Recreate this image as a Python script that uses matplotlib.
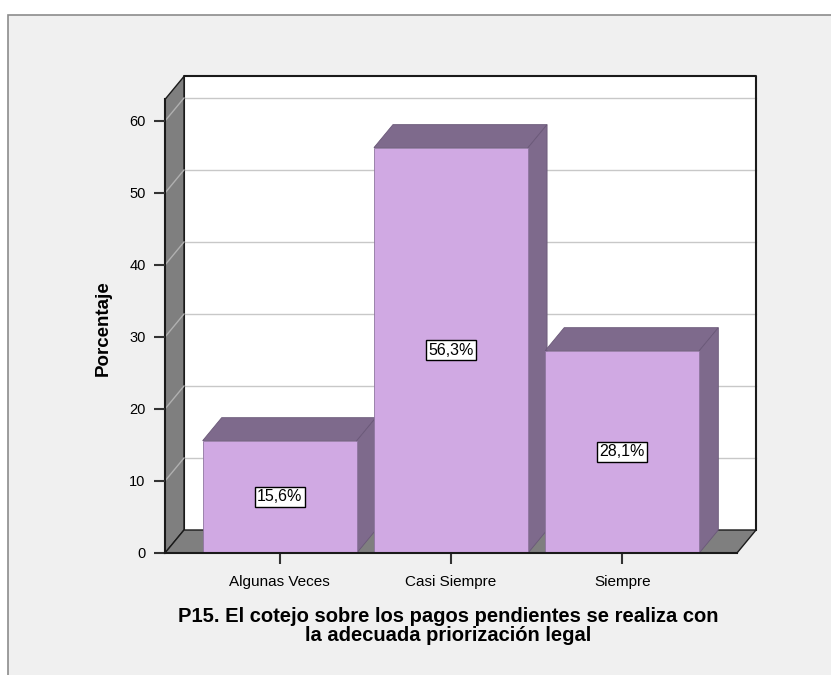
import matplotlib.pyplot as plt
from matplotlib.patches import Polygon, Rectangle

plt.rcParams['font.family'] = ['Liberation Sans', 'DejaVu Sans']

categories = ['Algunas Veces', 'Casi Siempre', 'Siempre']
percents = [15.6, 56.3, 28.1]
y_ticks = [0, 10, 20, 30, 40, 50, 60]
y_label = 'Porcentaje'
x_label = 'P15. El cotejo sobre los pagos pendientes se realiza con\nla adecuada priorización legal'

front_col = '#d0a9e3'
dark_col = '#7e6a8c'
wall_col = '#7f7f7f'

W, H = 831, 675
fig = plt.figure(figsize=(W / 100, H / 100), dpi=100)
fig.patch.set_facecolor('white')

# outer grey panel
fig.patches.append(Rectangle((8 / W, -0.1), 1.2, (H - 15) / H + 0.1, transform=fig.transFigure,
                             facecolor='#f0f0f0', edgecolor='#8c8c8c', linewidth=1.2, zorder=-10))

x0, x1 = -0.67, 2.67
ymax = 63
ax = fig.add_axes([165 / W, 122 / H, 572 / W, ymax * 7.2 / H])
ax.set_xlim(x0, x1)
ax.set_ylim(0, ymax)
ax.patch.set_visible(False)

# depth offset in data units (~19 px right, ~23 px up)
dx = 19 / (572 / (x1 - x0))
dy = 23 / 7.2

# back wall
ax.add_patch(Rectangle((x0 + dx, dy), x1 - x0, ymax, facecolor='white', edgecolor='none',
                       zorder=0, clip_on=False))
for v in y_ticks[1:]:
    ax.plot([x0 + dx, x1 + dx], [v + dy, v + dy], color='#c8c8c8', lw=1, zorder=0.5, clip_on=False)
ax.plot([x0 + dx, x0 + dx, x1 + dx, x1 + dx], [dy, ymax + dy, ymax + dy, dy],
        color='#1a1a1a', lw=1.5, zorder=0.6, clip_on=False)

# left wall
ax.add_patch(Polygon([(x0, 0), (x0, ymax), (x0 + dx, ymax + dy), (x0 + dx, dy)],
                     closed=True, facecolor=wall_col, edgecolor='#1a1a1a', lw=1, zorder=1, clip_on=False))
for v in y_ticks[1:]:
    ax.plot([x0, x0 + dx], [v, v + dy], color='#b0b0b0', lw=1, zorder=1.1, clip_on=False)

# floor
ax.add_patch(Polygon([(x0, 0), (x1, 0), (x1 + dx, dy), (x0 + dx, dy)],
                     closed=True, facecolor=wall_col, edgecolor='#1a1a1a', lw=1, zorder=1, clip_on=False))

# bars
bw = 0.9
for i, v in enumerate(percents):
    l, r = i - bw / 2, i + bw / 2
    z = 2 + i
    ax.add_patch(Polygon([(l, v), (r, v), (r + dx, v + dy), (l + dx, v + dy)], closed=True,
                         facecolor=dark_col, edgecolor='#6a5878', lw=0.6, zorder=z, clip_on=False))
    ax.add_patch(Polygon([(r, 0), (r, v), (r + dx, v + dy), (r + dx, dy)], closed=True,
                         facecolor=dark_col, edgecolor='#6a5878', lw=0.6, zorder=z, clip_on=False))
    ax.bar(i, v, width=bw, color=front_col, edgecolor='#8f76a0', linewidth=0.6, zorder=z + 0.5)
    ax.text(i, v / 2, f'{v:.1f}%'.replace('.', ','), ha='center', va='center', fontsize=11.5,
            zorder=z + 0.8,
            bbox=dict(boxstyle='square,pad=0.15', facecolor='white', edgecolor='black', linewidth=1))

for s in ['top', 'right']:
    ax.spines[s].set_visible(False)
ax.spines['left'].set_color('#1a1a1a')
ax.spines['bottom'].set_color('#1a1a1a')
ax.spines['left'].set_linewidth(1.5)
ax.spines['bottom'].set_linewidth(1.5)
ax.spines['left'].set_zorder(1.5)
ax.spines['bottom'].set_zorder(10)

ax.set_yticks(y_ticks)
ax.set_xticks(range(len(categories)))
ax.set_xticklabels(categories)
ax.tick_params(axis='y', length=8, width=1.5, color='#333333', labelsize=10.5, pad=6)
ax.tick_params(axis='x', length=8, width=1.5, color='#333333', labelsize=11, pad=8)

fig.text(103 / W, 1 - 328 / H, y_label, rotation=90, ha='center', va='center',
         fontsize=13.5, fontweight='bold')
fig.text(448 / W, 1 - 626 / H, x_label, ha='center', va='center', fontsize=14.5,
         fontweight='bold', linespacing=0.95)

fig.savefig('out.png', dpi=100)
